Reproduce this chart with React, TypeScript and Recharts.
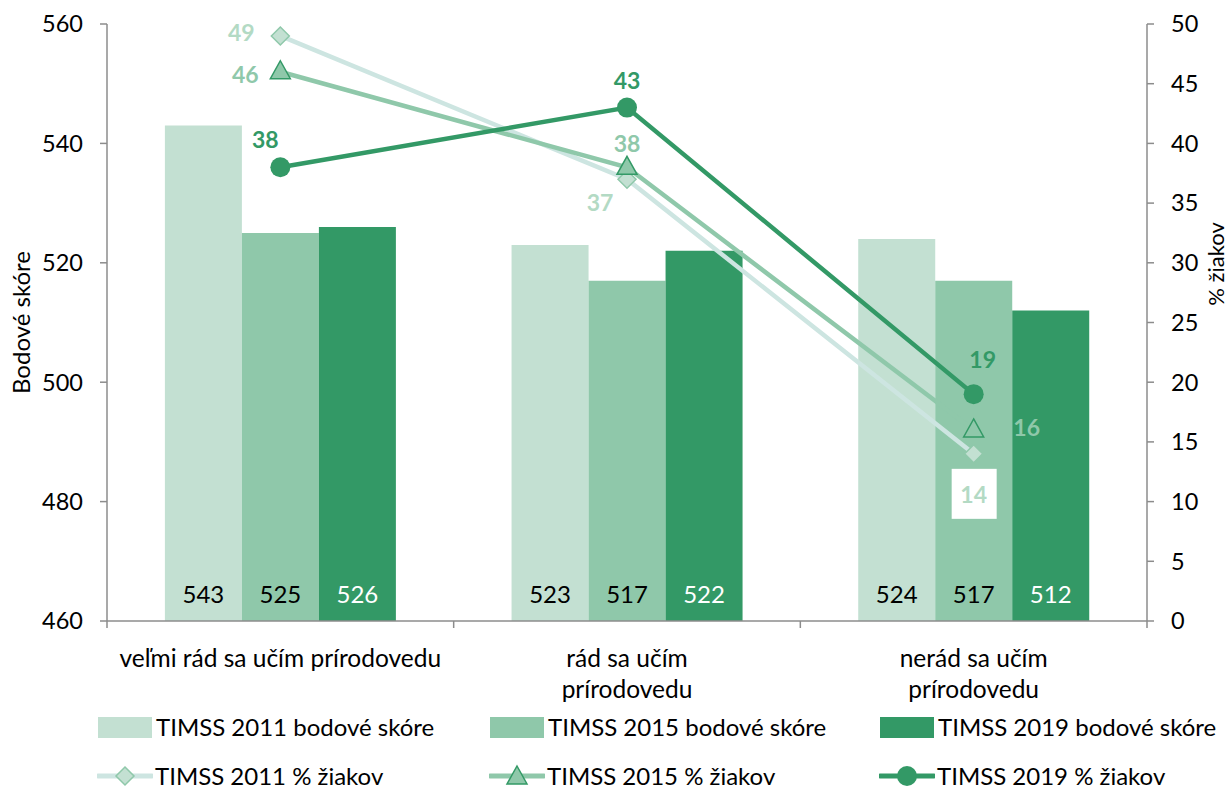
import React from "react";
import {
  ComposedChart,
  Bar,
  Line,
  XAxis,
  YAxis,
  LabelList,
} from "recharts";

// categories (line breaks as in the original axis)
const categories = [
  "veľmi rád sa učím prírodovedu",
  "rád sa učím\nprírodovedu",
  "nerád sa učím\nprírodovedu",
];

// bodové skóre (left axis)
const score2011 = [543, 523, 524];
const score2015 = [525, 517, 517];
const score2019 = [526, 522, 512];

// % žiakov (right axis)
const pct2011 = [49, 37, 14];
const pct2015 = [46, 38, 16];
const pct2019 = [38, 43, 19];

const leftTicks = [460, 480, 500, 520, 540, 560];
const rightTicks = [0, 5, 10, 15, 20, 25, 30, 35, 40, 45, 50];

const C11 = "#c3e0d2";
const C15 = "#8fc8aa";
const C19 = "#339966";
const LINE11 = "#cde5e1";
const LBL11 = "#b3dac4";
const AXIS = "#8c8c8c";
const FONT = "Lato, 'Noto Sans', sans-serif";

const data = categories.map((name, i) => ({
  name,
  s2011: score2011[i],
  s2015: score2015[i],
  s2019: score2019[i],
  p2011: pct2011[i],
  p2015: pct2015[i],
  p2019: pct2019[i],
}));

// label placement relative to each point [dx, dy]
const off2011 = [[-39, -4], [-27, 23], [0, 40]];
const off2015 = [[-35, 2], [0, -24], [53, -3]];
const off2019 = [[-15, -28], [0, -28], [9, -35]];

function pointLabel(color: string, offs: number[][], boxed?: number) {
  return (props: any) => {
    const { x, y, value, index } = props;
    const [dx, dy] = offs[index];
    const cx = x + dx;
    const cy = y + dy;
    return (
      <g key={`l-${index}`}>
        {boxed === index && (
          <rect x={cx - 22} y={cy - 25} width={45} height={50} fill="#fff" />
        )}
        <text
          x={cx}
          y={cy}
          textAnchor="middle"
          dominantBaseline="central"
          fill={color}
          fontSize={23}
          fontWeight="bold"
          fontFamily={FONT}
        >
          {value}
        </text>
      </g>
    );
  };
}

function barLabel(color: string) {
  return (props: any) => {
    const { x, y, width, height, value, index } = props;
    return (
      <text
        key={`b-${index}`}
        x={x + width / 2}
        y={y + height - 28}
        textAnchor="middle"
        dominantBaseline="central"
        fill={color}
        fontSize={24}
        fontFamily={FONT}
      >
        {value}
      </text>
    );
  };
}

const Diamond = (props: any) => {
  const { cx, cy, index } = props;
  if (cx == null || cy == null) return <g key={index} />;
  const r = 9;
  return (
    <path
      key={index}
      d={`M${cx},${cy - r} L${cx + r},${cy} L${cx},${cy + r} L${cx - r},${cy} Z`}
      fill={C11}
      stroke={C15}
      strokeWidth={1.5}
    />
  );
};

const Triangle = (props: any) => {
  const { cx, cy, index } = props;
  if (cx == null || cy == null) return <g key={index} />;
  return (
    <path
      key={index}
      d={`M${cx},${cy - 11} L${cx + 10},${cy + 7} L${cx - 10},${cy + 7} Z`}
      fill={C15}
      stroke={C19}
      strokeWidth={1.5}
    />
  );
};

const Dot = (props: any) => {
  const { cx, cy, index } = props;
  if (cx == null || cy == null) return <g key={index} />;
  return <circle key={index} cx={cx} cy={cy} r={10} fill={C19} />;
};

const CategoryTick = (props: any) => {
  const { x, y, payload, width, visibleTicksCount } = props;
  const band = width / visibleTicksCount;
  const lines = String(payload.value).split("\n");
  const axisY = y - 8;
  return (
    <g>
      {payload.index === 0 && (
        <line x1={x - band / 2} x2={x - band / 2} y1={axisY} y2={axisY + 7} stroke={AXIS} strokeWidth={1.5} />
      )}
      <line x1={x + band / 2} x2={x + band / 2} y1={axisY} y2={axisY + 7} stroke={AXIS} strokeWidth={1.5} />
      {lines.map((t, i) => (
        <text
          key={i}
          x={x}
          y={axisY + 36 + i * 31}
          textAnchor="middle"
          dominantBaseline="central"
          fill="#000"
          fontSize={24.5}
          fontFamily={FONT}
        >
          {t}
        </text>
      ))}
    </g>
  );
};

const legendBars = [
  { label: "TIMSS 2011 bodové skóre", color: C11, x: 98 },
  { label: "TIMSS 2015 bodové skóre", color: C15, x: 490 },
  { label: "TIMSS 2019 bodové skóre", color: C19, x: 880 },
];

const legendLines = [
  { label: "TIMSS 2011 % žiakov", x: 98, kind: "diamond" },
  { label: "TIMSS 2015 % žiakov", x: 490, kind: "triangle" },
  { label: "TIMSS 2019 % žiakov", x: 880, kind: "dot" },
];

function LegendMark({ kind }: { kind: string }) {
  const line = kind === "diamond" ? LINE11 : kind === "triangle" ? C15 : C19;
  return (
    <svg width={56} height={24} style={{ display: "block" }}>
      <line x1={1} x2={55} y1={12} y2={12} stroke={line} strokeWidth={5} strokeLinecap="round" />
      {kind === "diamond" && <Diamond cx={28} cy={12} index={0} />}
      {kind === "triangle" && <Triangle cx={28} cy={13} index={0} />}
      {kind === "dot" && <Dot cx={28} cy={12} index={0} />}
    </svg>
  );
}

export default function App() {
  return (
    <div style={{ position: "absolute", left: 0, top: 0, width: 1228, height: 789, background: "#fff", fontFamily: FONT }}>
      <ComposedChart
        width={1228}
        height={789}
        data={data}
        margin={{ top: 24, right: 0, bottom: 89, left: 0 }}
        barCategoryGap="16.7%"
        barGap={0}
      >
        <XAxis
          dataKey="name"
          xAxisId="cat"
          height={79}
          axisLine={{ stroke: AXIS, strokeWidth: 1.5 }}
          tickLine={false}
          tick={<CategoryTick />}
          interval={0}
        />
        <YAxis
          yAxisId="left"
          orientation="left"
          width={107}
          domain={[460, 560]}
          ticks={leftTicks}
          axisLine={{ stroke: AXIS, strokeWidth: 1.5 }}
          tickLine={{ stroke: AXIS, strokeWidth: 1.5 }}
          tickSize={7}
          tickMargin={17}
          tick={{ fill: "#000", fontSize: 23.5, fontFamily: FONT }}
          label={{
            content: (p: any) => {
              const vb = p.viewBox;
              const cx = 20;
              const cy = vb.y + vb.height / 2;
              return (
                <text x={cx} y={cy} transform={`rotate(-90 ${cx} ${cy})`} textAnchor="middle" dominantBaseline="central" fontSize={24} fontFamily={FONT} fill="#000">
                  Bodové skóre
                </text>
              );
            },
          }}
        />
        <YAxis
          yAxisId="right"
          orientation="right"
          width={81}
          domain={[0, 50]}
          ticks={rightTicks}
          axisLine={{ stroke: AXIS, strokeWidth: 1.5 }}
          tickLine={{ stroke: AXIS, strokeWidth: 1.5 }}
          tickSize={7}
          tickMargin={17}
          tick={{ fill: "#000", fontSize: 23.5, fontFamily: FONT, textAnchor: "start" }}
          label={{
            content: () => {
              const cx = 1215;
              const cy = 264;
              return (
                <text x={cx} y={cy} transform={`rotate(-90 ${cx} ${cy})`} textAnchor="middle" dominantBaseline="central" fontSize={22} fontFamily={FONT} fill="#000">
                  % žiakov
                </text>
              );
            },
          }}
        />
        <Bar dataKey="s2011" xAxisId="cat" yAxisId="left" fill={C11} isAnimationActive={false}>
          <LabelList dataKey="s2011" content={barLabel("#000")} />
        </Bar>
        <Bar dataKey="s2015" xAxisId="cat" yAxisId="left" fill={C15} isAnimationActive={false}>
          <LabelList dataKey="s2015" content={barLabel("#000")} />
        </Bar>
        <Bar dataKey="s2019" xAxisId="cat" yAxisId="left" fill={C19} isAnimationActive={false}>
          <LabelList dataKey="s2019" content={barLabel("#fff")} />
        </Bar>
        <Line
          dataKey="p2011"
          xAxisId="cat"
          yAxisId="right"
          type="linear"
          stroke={LINE11}
          strokeWidth={4.5}
          dot={<Diamond />}
          activeDot={false}
          isAnimationActive={false}
        >
          <LabelList dataKey="p2011" content={pointLabel(LBL11, off2011, 2)} />
        </Line>
        <Line
          dataKey="p2015"
          xAxisId="cat"
          yAxisId="right"
          type="linear"
          stroke={C15}
          strokeWidth={4.5}
          dot={<Triangle />}
          activeDot={false}
          isAnimationActive={false}
        >
          <LabelList dataKey="p2015" content={pointLabel(C15, off2015)} />
        </Line>
        <Line
          dataKey="p2019"
          xAxisId="cat"
          yAxisId="right"
          type="linear"
          stroke={C19}
          strokeWidth={4.5}
          dot={<Dot />}
          activeDot={false}
          isAnimationActive={false}
        >
          <LabelList dataKey="p2019" content={pointLabel(C19, off2019)} />
        </Line>
      </ComposedChart>
      {legendBars.map((l) => (
        <div key={l.label} style={{ position: "absolute", left: l.x, top: 713, display: "flex", alignItems: "center" }}>
          <div style={{ width: 54, height: 21, background: l.color, marginRight: 4 }} />
          <span style={{ fontSize: 24, lineHeight: "28px", color: "#000", whiteSpace: "nowrap" }}>{l.label}</span>
        </div>
      ))}
      {legendLines.map((l) => (
        <div key={l.label} style={{ position: "absolute", left: l.x - 1, top: 762, display: "flex", alignItems: "center" }}>
          <LegendMark kind={l.kind} />
          <span style={{ fontSize: 24, lineHeight: "28px", color: "#000", whiteSpace: "nowrap", marginLeft: 2 }}>{l.label}</span>
        </div>
      ))}
    </div>
  );
}
